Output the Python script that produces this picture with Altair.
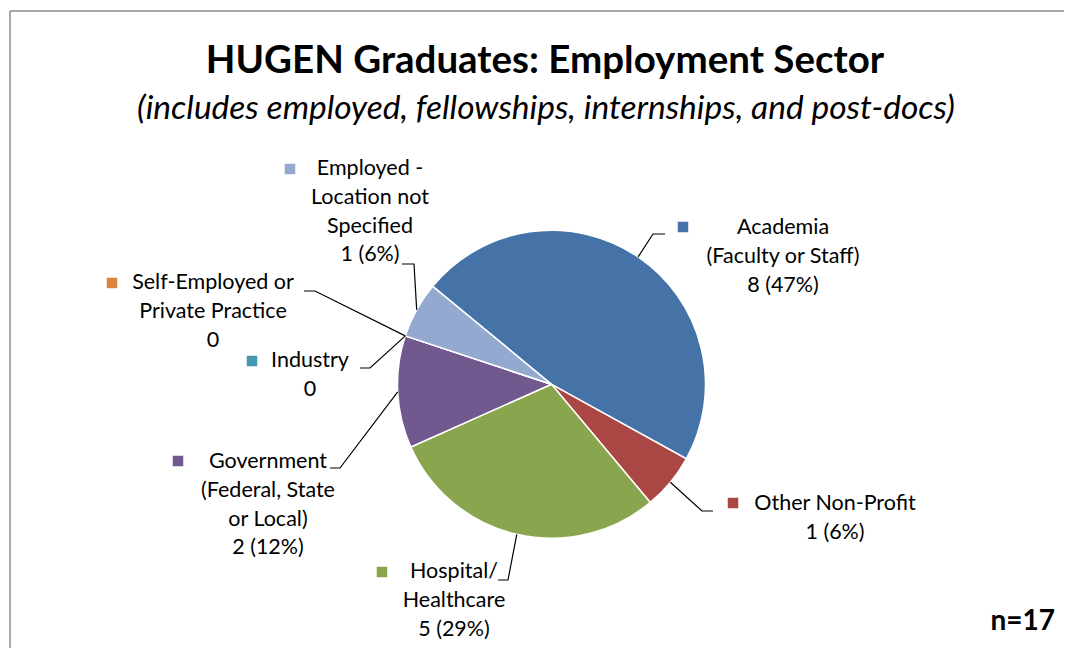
import math
import altair as alt
import pandas as pd

# ---------------- data ----------------
CATEGORIES = [
    "Academia",
    "Other Non-Profit",
    "Hospital/Healthcare",
    "Government",
    "Industry",
    "Self-Employed or Private Practice",
    "Employed - Location not Specified",
]
COUNTS = [8, 1, 5, 2, 0, 0, 1]
COLORS = ["#4572A7", "#AA4643", "#89A54E", "#71588F", "#4198AF", "#DB843D", "#93A9CF"]
LABEL_LINES = [
    ["Academia", "(Faculty or Staff)"],
    ["Other Non-Profit"],
    ["Hospital/", "Healthcare"],
    ["Government", "(Federal, State", "or Local)"],
    ["Industry"],
    ["Self-Employed or", "Private Practice"],
    ["Employed -", "Location not", "Specified"],
]
TITLE = "HUGEN Graduates: Employment Sector"
SUBTITLE = "(includes employed, fellowships, internships, and post-docs)"
NOTE = "n=17"

# ---------------- layout (chart pixel coords) ----------------
W, H = 1056, 640
CX, CY, R = 543.5, 376.3, 154
START_DEG = 309.5
LINE_H = 28.8
FONT = "Lato"
# text centre x, first line y, square x, square y, elbow points
LAYOUT = [
    (775, 220, 675, 219, [(657, 226), (645, 226)]),
    (827, 496, 725, 495, [(705, 503), (694, 503)]),
    (446, 564, 374, 564, [(490, 572), (500, 572)]),
    (260, 454, 170, 453, [(322, 460), (332, 460)]),
    (302, 353, 244, 353, [(352, 360), (362, 360)]),
    (205, 275, 104, 275, [(296, 283), (307, 283)]),
    (362, 161, 282, 161, [(394, 256), (406, 256)]),
]

total = sum(COUNTS)
pie_df = pd.DataFrame({
    "category": CATEGORIES,
    "count": COUNTS,
    "idx": list(range(len(CATEGORIES))),
})

color_scale = alt.Scale(domain=CATEGORIES, range=COLORS)
start = math.radians(START_DEG)

text_rows, sq_rows, line_rows = [], [], []
cum = 0
for i, (cat, c, lines, lay) in enumerate(zip(CATEGORIES, COUNTS, LABEL_LINES, LAYOUT)):
    tx, ty, sx, sy, elbow = lay
    value_txt = f"{c} ({round(100 * c / total)}%)" if c else "0"
    for j, ln in enumerate(lines + [value_txt]):
        text_rows.append({"x": tx, "y": ty + j * LINE_H, "t": ln})
    sq_rows.append({"x": sx, "y": sy, "category": cat})
    mid = START_DEG + 360 * (cum + c / 2) / total
    cum += c
    ex = CX + R * math.sin(math.radians(mid))
    ey = CY - R * math.cos(math.radians(mid))
    pts = elbow + [(ex, ey)]
    for k, (px, py) in enumerate(pts):
        line_rows.append({"x": px, "y": py, "category": cat, "k": k})

text_df = pd.DataFrame(text_rows)
sq_df = pd.DataFrame(sq_rows)
line_df = pd.DataFrame(line_rows)

xs = alt.Scale(domain=[0, W], range=[0, W])
ys = alt.Scale(domain=[0, H], range=[0, H])

pie = alt.Chart(pie_df).mark_arc(radius=R, stroke="white", strokeWidth=1.5).encode(
    theta=alt.Theta("count:Q", stack=True,
                    scale=alt.Scale(domain=[0, total], range=[start, start + 2 * math.pi])),
    color=alt.Color("category:N", scale=color_scale, legend=None),
    order=alt.Order("idx:Q"),
    x=alt.value(CX),
    y=alt.value(CY),
)

leaders = alt.Chart(line_df).mark_line(color="black", strokeWidth=1.2).encode(
    x=alt.X("x:Q", scale=xs, axis=None),
    y=alt.Y("y:Q", scale=ys, axis=None),
    detail="category:N",
    order="k:Q",
)

squares = alt.Chart(sq_df).mark_square(size=110, opacity=1).encode(
    x=alt.X("x:Q", scale=xs, axis=None),
    y=alt.Y("y:Q", scale=ys, axis=None),
    color=alt.Color("category:N", scale=color_scale, legend=None),
)

labels = alt.Chart(text_df).mark_text(
    font=FONT, fontSize=21.5, color="black", align="center", baseline="middle"
).encode(
    x=alt.X("x:Q", scale=xs, axis=None),
    y=alt.Y("y:Q", scale=ys, axis=None),
    text="t:N",
)

title = alt.Chart(pd.DataFrame({"t": [TITLE]})).mark_text(
    font=FONT, fontSize=38.5, fontWeight="bold", color="black", align="center", baseline="middle"
).encode(x=alt.value(537), y=alt.value(53), text="t:N")

subtitle = alt.Chart(pd.DataFrame({"t": [SUBTITLE]})).mark_text(
    font=FONT, fontSize=33.5, fontStyle="italic", color="black", align="center", baseline="middle"
).encode(x=alt.value(538), y=alt.value(101), text="t:N")

note = alt.Chart(pd.DataFrame({"t": [NOTE]})).mark_text(
    font=FONT, fontSize=28, fontWeight="bold", color="black", align="right", baseline="middle"
).encode(x=alt.value(1047), y=alt.value(614), text="t:N")

frame_top = alt.Chart(pd.DataFrame({"a": [0]})).mark_rule(color="#8c8c8c", strokeWidth=1.5).encode(
    x=alt.value(2), x2=alt.value(W), y=alt.value(3)
)
frame_left = alt.Chart(pd.DataFrame({"a": [0]})).mark_rule(color="#8c8c8c", strokeWidth=1.5).encode(
    x=alt.value(2), y=alt.value(3), y2=alt.value(H)
)

chart = alt.layer(
    frame_top, frame_left, pie, leaders, squares, labels, title, subtitle, note
).properties(
    width=W, height=H, autosize="none", padding=0
).configure_view(stroke=None)

chart.save("out.html", embed_options={"renderer": "svg", "actions": False})
